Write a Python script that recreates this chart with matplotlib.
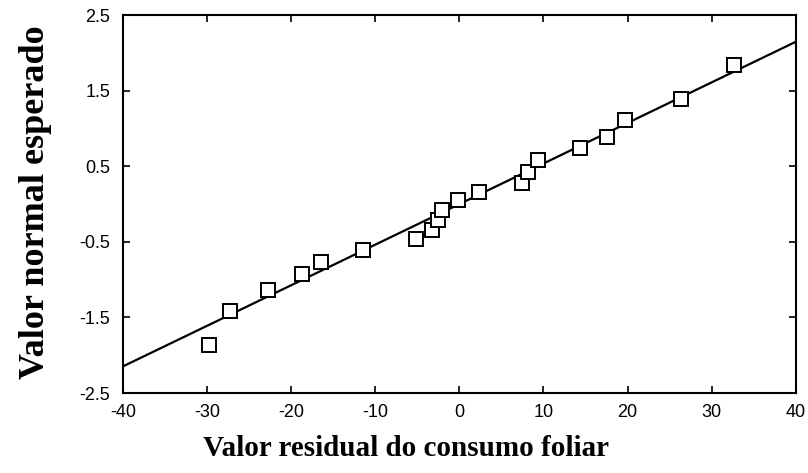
import matplotlib
matplotlib.use("Agg")
import matplotlib.pyplot as plt
import numpy as np

# residuals (x) and expected normal values (y)
residual = [-29.8, -27.3, -22.8, -18.7, -16.4, -11.4, -5.2, -3.2, -2.5, -2.1,
            -0.2, 2.3, 7.5, 8.2, 9.3, 14.4, 17.6, 19.7, 26.4, 32.6]
expected = [-1.87, -1.41, -1.14, -0.93, -0.76, -0.61, -0.46, -0.34, -0.21, -0.08,
            0.05, 0.16, 0.28, 0.42, 0.58, 0.74, 0.89, 1.11, 1.39, 1.84]
line_slope = 0.0537
line_intercept = 0.0

x_ticks = [-40, -30, -20, -10, 0, 10, 20, 30, 40]
y_ticks = [-2.5, -1.5, -0.5, 0.5, 1.5, 2.5]

fig = plt.figure(figsize=(8.08, 4.73), dpi=100)
ax = fig.add_axes([0.152, 0.169, 0.833, 0.799])

xl = np.array([-40, 40])
ax.plot(xl, line_intercept + line_slope * xl, color="black", lw=1.6, zorder=2)
ax.plot(residual, expected, ls="none", marker="s", ms=10, mfc="white",
        mec="black", mew=1.4, zorder=3)

ax.set_xlim(-40, 40)
ax.set_ylim(-2.5, 2.5)
ax.set_xticks(x_ticks)
ax.set_yticks(y_ticks)
ax.set_xticklabels([str(t) for t in x_ticks])
ax.set_yticklabels([f"{t:g}" for t in y_ticks])
ax.tick_params(direction="in", top=True, right=True, length=5, width=1.2,
               labelsize=13)
ax.tick_params(axis="x", pad=8)
ax.tick_params(axis="y", pad=9)
for lab in ax.get_xticklabels() + ax.get_yticklabels():
    lab.set_family("Liberation Sans")
for s in ax.spines.values():
    s.set_linewidth(1.5)

ax.set_xlabel("Valor residual do consumo foliar", family="Liberation Serif",
              fontweight="bold", fontsize=21)
ax.xaxis.set_label_coords(0.42, -0.112)
ax.set_ylabel("Valor normal esperado", family="Liberation Serif",
              fontweight="bold", fontsize=26)
ax.yaxis.set_label_coords(-0.105, 0.505)

fig.savefig("out.png", dpi=100)
